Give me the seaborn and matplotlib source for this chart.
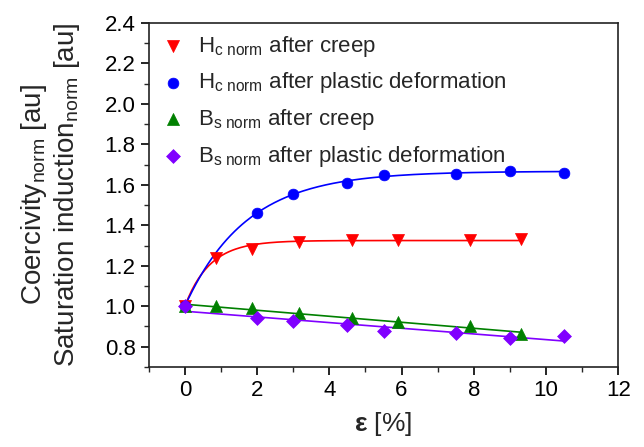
import numpy as np
import pandas as pd
import matplotlib
matplotlib.use("Agg")
import matplotlib.pyplot as plt
import seaborn as sns
from matplotlib.ticker import MultipleLocator

# dados
x_creep = [0, 0.85, 1.87, 3.16, 4.62, 5.91, 7.9, 9.3]
hc_creep = [1.0, 1.24, 1.285, 1.318, 1.328, 1.325, 1.328, 1.33]
bs_creep = [1.0, 1.0, 0.99, 0.965, 0.94, 0.92, 0.9, 0.865]

x_plastic = [0, 2.0, 3.0, 4.5, 5.5, 7.5, 9.0, 10.5]
hc_plastic = [1.0, 1.46, 1.555, 1.61, 1.65, 1.655, 1.67, 1.66]
bs_plastic = [1.0, 0.942, 0.925, 0.906, 0.878, 0.869, 0.843, 0.851]

series_labels = [
    r"H$_\mathrm{c\ norm}$ after creep",
    r"H$_\mathrm{c\ norm}$ after plastic deformation",
    r"B$_\mathrm{s\ norm}$ after creep",
    r"B$_\mathrm{s\ norm}$ after plastic deformation",
]
colors = ["#ff0000", "#0000ff", "#008000", "#8000ff"]
markers = ["v", "o", "^", "D"]
sizes = [75, 60, 75, 50]


# ajuste y = 1 + A*(1 - exp(-x/t)) por busca em t
def fit_exp(x, y):
    x = np.asarray(x); y = np.asarray(y) - 1.0
    best = None
    for t in np.linspace(0.1, 5, 500):
        g = 1 - np.exp(-x / t)
        a = (g @ y) / (g @ g)
        err = ((a * g - y) ** 2).sum()
        if best is None or err < best[0]:
            best = (err, a, t)
    return best[1], best[2]


sns.set_style("ticks")
plt.rcParams["font.family"] = ["Liberation Sans", "DejaVu Sans"]
plt.rcParams["mathtext.fontset"] = "custom"
plt.rcParams["mathtext.rm"] = "Liberation Sans"
plt.rcParams["mathtext.it"] = "Liberation Sans:italic"
plt.rcParams["mathtext.bf"] = "Liberation Sans:bold"

fig, ax = plt.subplots(figsize=(6.44, 4.47), dpi=100)
fig.subplots_adjust(left=0.231, right=0.960, top=0.949, bottom=0.179)

xs = [x_creep, x_plastic, x_creep, x_plastic]
ys = [hc_creep, hc_plastic, bs_creep, bs_plastic]

# curvas de ajuste
for i, (x, y) in enumerate(zip(xs, ys)):
    xx = np.linspace(0, max(x), 200)
    if i < 2:
        a, t = fit_exp(x, y)
        yy = 1 + a * (1 - np.exp(-xx / t))
    else:
        p = np.polyfit(x, y, 1)
        yy = np.polyval(p, xx)
    sns.lineplot(x=xx, y=yy, color=colors[i], lw=1.2, ax=ax, legend=False)

# pontos
for i, (x, y) in enumerate(zip(xs, ys)):
    sns.scatterplot(x=x, y=y, color=colors[i], marker=markers[i], s=sizes[i],
                    edgecolor=colors[i], linewidth=0.5, label=series_labels[i],
                    ax=ax, zorder=3)

ax.set_xlim(-1, 12)
ax.set_ylim(0.7, 2.4)
ax.xaxis.set_minor_locator(MultipleLocator(1))
ax.yaxis.set_minor_locator(MultipleLocator(0.1))
ax.set_xticks(np.arange(0, 13, 2))
ax.set_xticklabels([str(v) for v in range(0, 13, 2)])
ax.set_yticks(np.arange(0.8, 2.41, 0.2))
ax.set_yticklabels([f"{v:.1f}" for v in np.arange(0.8, 2.41, 0.2)])
ax.tick_params(which="major", direction="out", length=6, width=1.2, labelsize=16, colors="black")
ax.tick_params(which="minor", direction="out", length=3.5, width=1.0)
for s in ax.spines.values():
    s.set_linewidth(1.2)
    s.set_color("#222222")

ax.set_xlabel(r"$\mathbf{\varepsilon}$ [%]", fontsize=19, labelpad=6)
ax.set_ylabel("Coercivity$_\\mathrm{norm}$ [au]\nSaturation induction$_\\mathrm{norm}$ [au]",
              fontsize=20, labelpad=16, linespacing=1.15)

leg = ax.legend(loc="upper left", frameon=False, fontsize=16, handletextpad=0.5,
                borderaxespad=0.2, labelspacing=0.52, handlelength=1.2,
                borderpad=0.3)

fig.savefig("out.png", dpi=100)
